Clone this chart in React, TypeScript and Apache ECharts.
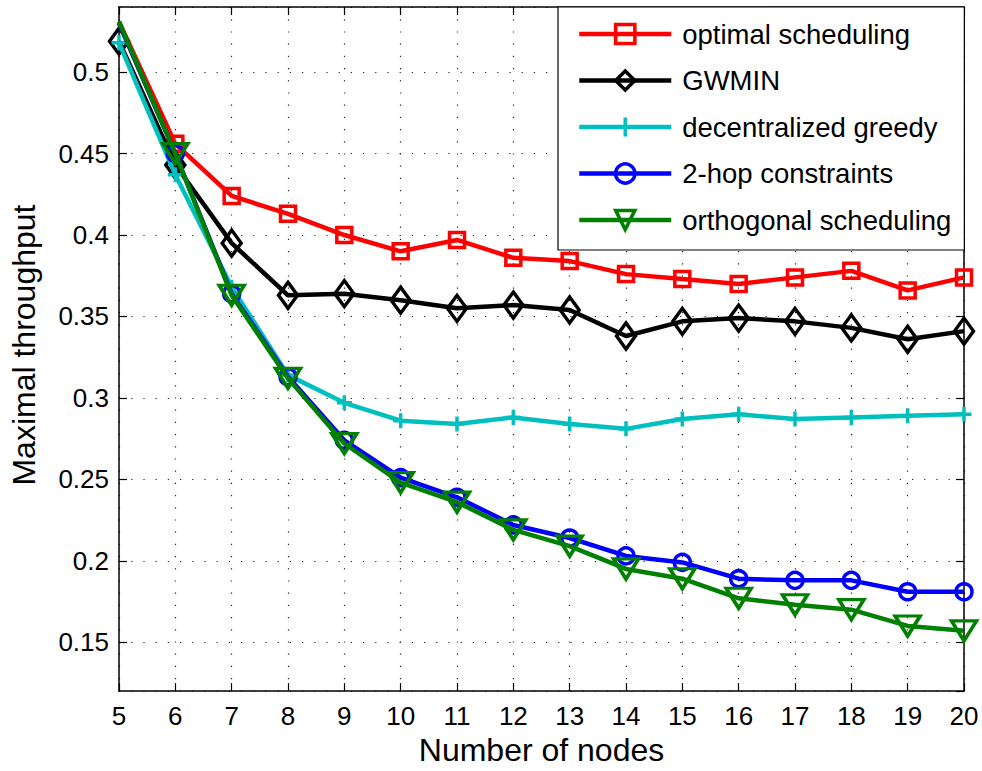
import React, { useEffect, useRef } from "react";
import * as echarts from "echarts";

const nodes = [5, 6, 7, 8, 9, 10, 11, 12, 13, 14, 15, 16, 17, 18, 19, 20];
const optimalScheduling = [0.531, 0.456, 0.424, 0.413, 0.4, 0.39, 0.397, 0.386, 0.384, 0.376, 0.373, 0.37, 0.374, 0.378, 0.366, 0.374];
const gwmin = [0.519, 0.443, 0.395, 0.363, 0.364, 0.36, 0.355, 0.357, 0.354, 0.338, 0.347, 0.349, 0.347, 0.343, 0.336, 0.341];
const decentralizedGreedy = [0.518, 0.437, 0.368, 0.314, 0.297, 0.286, 0.284, 0.288, 0.284, 0.281, 0.287, 0.29, 0.287, 0.288, 0.289, 0.29];
const twoHopConstraints = [0.53, 0.45, 0.364, 0.313, 0.274, 0.251, 0.239, 0.222, 0.214, 0.203, 0.199, 0.189, 0.188, 0.188, 0.181, 0.181];
const orthogonalScheduling = [0.531, 0.45, 0.363, 0.312, 0.272, 0.248, 0.236, 0.219, 0.209, 0.195, 0.189, 0.177, 0.173, 0.17, 0.16, 0.157];

const FONT = "'Liberation Sans', Arial, Helvetica, sans-serif";
const PLUS = "path://M8 0 L8 16 M0 8 L16 8";

type SeriesDef = {
  name: string;
  values: number[];
  color: string;
  symbol: string;
  size: number | number[];
  rotate?: number;
  markFirst: boolean;
};

const seriesDefs: SeriesDef[] = [
  { name: "optimal scheduling", values: optimalScheduling, color: "#ff0000", symbol: "rect", size: 15, markFirst: false },
  { name: "GWMIN", values: gwmin, color: "#000000", symbol: "diamond", size: [19, 26], markFirst: true },
  { name: "decentralized greedy", values: decentralizedGreedy, color: "#00bfbf", symbol: PLUS, size: 15, markFirst: true },
  { name: "2-hop constraints", values: twoHopConstraints, color: "#0000ff", symbol: "circle", size: 16, markFirst: false },
  { name: "orthogonal scheduling", values: orthogonalScheduling, color: "#008000", symbol: "triangle", size: [25, 20], rotate: 180, markFirst: false },
];

const gridDots = { color: "#222", width: 1.2, type: [1.2, 11] as number[] };

export default function App() {
  const ref = useRef<HTMLDivElement>(null);

  useEffect(() => {
    if (!ref.current) return;
    const chart = echarts.init(ref.current, undefined, { renderer: "svg" });

    const frameAxis = {
      axisLine: { show: true, onZero: false, lineStyle: { color: "#000", width: 1.5 } },
      axisTick: { show: true, inside: true, length: 8, lineStyle: { color: "#000", width: 1.2 } },
    };

    chart.setOption({
      animation: false,
      backgroundColor: "#ffffff",
      textStyle: { fontFamily: FONT },
      grid: { left: 118, right: 18, top: 7, bottom: 78, containLabel: false },
      legend: {
        orient: "vertical",
        left: 558,
        top: 7,
        padding: [13, 13, 16, 19],
        itemWidth: 92,
        itemHeight: 24,
        itemGap: 18.5,
        backgroundColor: "#ffffff",
        borderColor: "#000",
        borderWidth: 1.2,
        lineStyle: { width: 4.5 },
        itemStyle: { borderWidth: 3.5 },
        textStyle: { fontSize: 27.5, color: "#000", fontFamily: FONT, padding: [0, 0, 0, 6] },
        data: seriesDefs.map((s) => s.name),
      },
      xAxis: [
        {
          type: "value",
          min: 5,
          max: 20,
          interval: 1,
          name: "Number of nodes",
          nameLocation: "middle",
          nameGap: 42,
          nameTextStyle: { fontSize: 32, color: "#000", fontFamily: FONT },
          axisLabel: { fontSize: 26, color: "#000", margin: 12, fontFamily: FONT },
          splitLine: { show: true, lineStyle: gridDots },
          ...frameAxis,
        },
        {
          type: "value",
          position: "top",
          min: 5,
          max: 20,
          interval: 1,
          axisLabel: { show: false },
          splitLine: { show: false },
          ...frameAxis,
        },
      ],
      yAxis: [
        {
          type: "value",
          min: 0.12,
          max: 0.54,
          splitNumber: 8,
          minInterval: 0.05,
          maxInterval: 0.05,
          name: "Maximal throughput",
          nameLocation: "middle",
          nameGap: 79,
          nameTextStyle: { fontSize: 32, color: "#000", fontFamily: FONT, padding: [0, 0, 0, 8] },
          axisLabel: { fontSize: 26, color: "#000", margin: 10, showMinLabel: false, showMaxLabel: false, fontFamily: FONT },
          splitLine: { show: true, lineStyle: gridDots },
          ...frameAxis,
        },
        {
          type: "value",
          position: "right",
          min: 0.12,
          max: 0.54,
          splitNumber: 8,
          minInterval: 0.05,
          maxInterval: 0.05,
          axisLabel: { show: false },
          splitLine: { show: false },
          ...frameAxis,
        },
      ],
      series: seriesDefs.map((s, i) => ({
        name: s.name,
        type: "line",
        xAxisIndex: 0,
        yAxisIndex: 0,
        z: 3 + i,
        data: nodes.map((n, k) =>
          k === 0 && !s.markFirst ? { value: [n, s.values[k]], symbol: "none" } : [n, s.values[k]]
        ),
        symbol: s.symbol,
        symbolSize: s.size,
        symbolRotate: s.rotate ?? 0,
        showAllSymbol: true,
        lineStyle: { color: s.color, width: 4.5 },
        itemStyle: { color: "rgba(255,255,255,0)", borderColor: s.color, borderWidth: 3.5 },
        emphasis: { disabled: true },
      })),
    });

    return () => chart.dispose();
  }, []);

  return <div ref={ref} style={{ position: "absolute", left: 0, top: 0, width: 982, height: 771 }} />;
}
